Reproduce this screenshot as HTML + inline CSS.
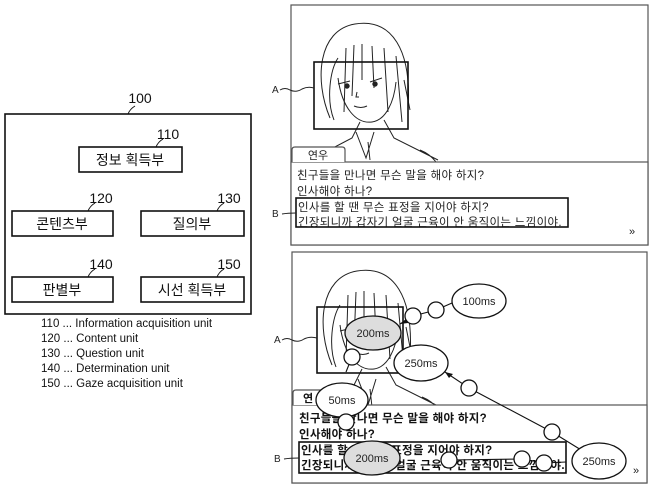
<!DOCTYPE html>
<html><head><meta charset="utf-8"><style>
html,body{margin:0;padding:0;background:#fff;}
body{width:650px;height:488px;overflow:hidden;position:relative;font-family:"Liberation Sans","Noto Sans CJK KR",sans-serif;}
svg{position:absolute;left:0;top:0;}
text{font-family:"Liberation Sans","Noto Sans CJK KR",sans-serif;}
</style></head><body>
<svg width="650" height="488" viewBox="0 0 650 488" xmlns="http://www.w3.org/2000/svg">
<defs>
<g id="girl" fill="none" stroke="#222" stroke-width="1">
 <path d="M330 118 C314 80 318 30 355 24 C392 18 412 50 408 110"/>
 <path d="M334 120 C326 100 330 70 338 58 M346 48 L344 112 M354 45 L352 96 M362 44 L362 80 M372 46 L374 88 M384 48 L388 112 M396 56 L402 122 M404 80 L410 110"/>
 <path d="M338 78 C342 108 356 124 372 122 C386 120 394 102 396 82"/>
 <path d="M338 84 l12 -3 M370 82 l12 -4"/>
 <circle cx="347" cy="86" r="2.2" fill="#222"/><circle cx="375" cy="84" r="2.2" fill="#222"/>
 <path d="M357 92 l-1 5 l3 0"/>
 <path d="M354 106 q7 3 13 0"/>
 <path d="M360 122 L352 138 L310 160 M384 120 L394 138 L438 160 M356 132 l10 26 l8 -26 M368 142 l2 18 M420 150 q10 4 16 12"/>
</g>
</defs>

<!-- LEFT BLOCK DIAGRAM -->
<g fill="none" stroke="#111" stroke-width="1.6">
 <rect x="5" y="114" width="246" height="200"/>
 <rect x="79" y="147" width="103" height="25"/>
 <rect x="12" y="211" width="101" height="25"/>
 <rect x="141" y="211" width="103" height="25"/>
 <rect x="12" y="277" width="101" height="25"/>
 <rect x="141" y="277" width="103" height="25"/>
 <path d="M128 114 q2 -5 7 -8 M156 147 q2 -5 7 -8 M88 211 q2 -5 7 -8 M217 211 q2 -5 7 -8 M88 277 q2 -5 7 -8 M217 277 q2 -5 7 -8" stroke-width="1"/>
</g>
<g font-size="14" fill="#111" text-anchor="middle">
 <text x="140" y="103">100</text>
 <text x="168" y="139">110</text>
 <text x="101" y="203">120</text>
 <text x="229" y="203">130</text>
 <text x="101" y="269">140</text>
 <text x="229" y="269">150</text>
 <text x="130" y="165">정보 획득부</text>
 <text x="62" y="229">콘텐츠부</text>
 <text x="192" y="229">질의부</text>
 <text x="62" y="295">판별부</text>
 <text x="192" y="295">시선 획득부</text>
</g>
<g font-size="11.5" fill="#111">
 <text x="41" y="327">110 ... Information acquisition unit</text>
 <text x="41" y="342">120 ... Content unit</text>
 <text x="41" y="357">130 ... Question unit</text>
 <text x="41" y="372">140 ... Determination unit</text>
 <text x="41" y="387">150 ... Gaze acquisition unit</text>
</g>

<!-- TOP PANEL -->
<rect x="291" y="5" width="357" height="240" fill="none" stroke="#555" stroke-width="1.2"/>
<use href="#girl"/>
<rect x="291" y="162" width="357" height="83" fill="#fff" stroke="#555" stroke-width="1.2"/>
<path d="M292 162 L292 150 q0 -3 3 -3 L342 147 q3 0 3 3 L345 162" fill="#fff" stroke="#555" stroke-width="1.2"/>
<text x="318" y="159" font-size="11" fill="#222" text-anchor="middle">연우</text>
<rect x="314" y="62" width="94" height="67" fill="none" stroke="#111" stroke-width="1.6"/>
<g font-size="11.5" fill="#222" letter-spacing="0.3">
 <text x="297" y="179">친구들을 만나면 무슨 말을 해야 하지?</text>
 <text x="297" y="195">인사해야 하나?</text>
 <text x="298" y="211">인사를 할 땐 무슨 표정을 지어야 하지?</text>
 <text x="298" y="226">긴장되니까 갑자기 얼굴 근육이 안 움직이는 느낌이야.</text>
</g>
<rect x="296" y="198" width="272" height="29" fill="none" stroke="#111" stroke-width="1.6"/>
<text x="632" y="235" font-size="11" fill="#222" text-anchor="middle">»</text>
<text x="272" y="93" font-size="10" fill="#222">A</text>
<path d="M280 90 q5 -3 10 0 q6 3 12 -1 q6 -3 12 -1" fill="none" stroke="#222"/>
<text x="272" y="217" font-size="10" fill="#222">B</text>
<path d="M282 214 q6 -1 14 -1" fill="none" stroke="#222"/>

<!-- BOTTOM PANEL -->
<rect x="292" y="252" width="355" height="231" fill="none" stroke="#555" stroke-width="1.2"/>
<g transform="translate(2,247)"><use href="#girl"/></g>
<rect x="292" y="405" width="355" height="78" fill="#fff" stroke="#555" stroke-width="1.2"/>
<path d="M293 405 L293 393 q0 -3 3 -3 L343 390 q3 0 3 3 L346 405" fill="#fff" stroke="#555" stroke-width="1.2"/>
<text x="303" y="402" font-size="11" font-weight="bold" fill="#111">연</text>
<rect x="317" y="307" width="86" height="66" fill="none" stroke="#111" stroke-width="1.6"/>
<g font-size="11.5" fill="#111" font-weight="bold" letter-spacing="0.3">
 <text x="299" y="422">친구들을 만나면 무슨 말을 해야 하지?</text>
 <text x="299" y="438">인사해야 하나?</text>
 <text x="301" y="454">인사를 할 땐 무슨 표정을 지어야 하지?</text>
 <text x="301" y="469">긴장되니까 갑자기 얼굴 근육이 안 움직이는 느낌이야.</text>
</g>
<rect x="299" y="442" width="267" height="31" fill="none" stroke="#111" stroke-width="1.6"/>
<text x="636" y="474" font-size="11" fill="#222" text-anchor="middle">»</text>
<text x="274" y="343" font-size="10" fill="#222">A</text>
<path d="M282 340 q5 -3 10 0 q6 3 12 -1 q6 -3 13 -1" fill="none" stroke="#222"/>
<text x="274" y="462" font-size="10" fill="#222">B</text>
<path d="M284 459 q6 -1 15 -1" fill="none" stroke="#222"/>

<!-- connectors -->
<g stroke="#111" stroke-width="1.1" fill="none">
 <path d="M400 324 L413 316 L436 310 L452 303"/>
 <path d="M599 461 L552 432 L469 388 L445 372"/>
 <path d="M566 462 L544 463 L522 459 L449 460"/>
 <path d="M352 357 L346 372 M342 383 L346 422"/>
</g>
<g fill="#111"><path d="M445 372 l8 2 l-4 4z"/><path d="M400 324 l7 -6 l1 5z"/></g>

<!-- ellipses -->
<g stroke="#111" stroke-width="1.3">
 <ellipse cx="479" cy="301" rx="27" ry="17" fill="#fff"/>
 <ellipse cx="373" cy="333" rx="28" ry="17" fill="#ddd"/>
 <ellipse cx="421" cy="363" rx="27" ry="18" fill="#fff"/>
 <ellipse cx="342" cy="400" rx="26" ry="17" fill="#fff"/>
 <ellipse cx="372" cy="458" rx="28" ry="17" fill="#ddd"/>
 <ellipse cx="599" cy="461" rx="27" ry="18" fill="#fff"/>
 <circle cx="413" cy="316" r="8" fill="#fff"/>
 <circle cx="436" cy="310" r="8" fill="#fff"/>
 <circle cx="352" cy="357" r="8" fill="#fff"/>
 <circle cx="469" cy="388" r="8" fill="#fff"/>
 <circle cx="346" cy="422" r="8" fill="#fff"/>
 <circle cx="552" cy="432" r="8" fill="#fff"/>
 <circle cx="449" cy="460" r="8" fill="#fff"/>
 <circle cx="522" cy="459" r="8" fill="#fff"/>
 <circle cx="544" cy="463" r="8" fill="#fff"/>
</g>
<g font-size="11" fill="#222" text-anchor="middle">
 <text x="479" y="305">100ms</text>
 <text x="373" y="337">200ms</text>
 <text x="421" y="367">250ms</text>
 <text x="342" y="404">50ms</text>
 <text x="372" y="462">200ms</text>
 <text x="599" y="465">250ms</text>
</g>
</svg>
</body></html>
